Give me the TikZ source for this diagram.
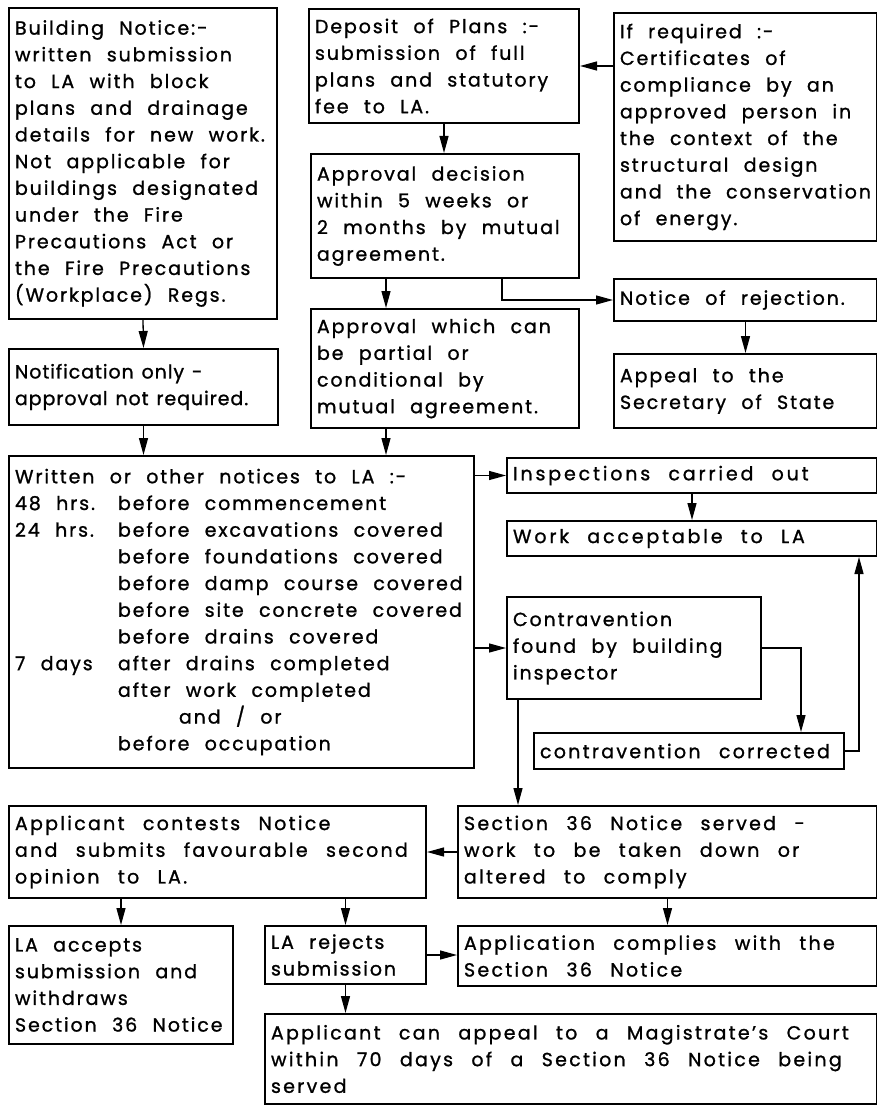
\documentclass[tikz,border=0pt]{standalone}
\usepackage{fontspec}
\setmainfont{Poppins}[LetterSpace=10, WordSpace=2.2, FakeBold=1.1]
\newfontfamily\narrowface{Poppins}[Ligatures=TeX, LetterSpace=5, WordSpace=1.3, FakeBold=1.1]
\newfontfamily\midface{Poppins}[Ligatures=TeX, LetterSpace=12, WordSpace=2.5, FakeBold=1.1]
\newfontfamily\wideface{Poppins}[Ligatures=TeX, LetterSpace=15, WordSpace=2.3, FakeBold=1.1]
\usetikzlibrary{arrows.meta, positioning, calc}

\newcommand{\hrscol}[1]{\makebox[103pt][l]{#1}}

\begin{document}
\begin{tikzpicture}[
    x=1pt, y=-1pt,
    box/.style={draw, line width=2pt, anchor=north west, align=flush left, inner xsep=6pt, inner ysep=2pt, font=\fontsize{19}{26.7}\selectfont},
    narrow/.style={font=\fontsize{19}{26.7}\narrowface},
    mid/.style={font=\fontsize{19}{26.7}\midface},
    wide/.style={font=\fontsize{19}{26.7}\wideface},
    arr/.style={-{Triangle[length=17pt, width=9pt]}, line width=1.3pt},
]
\useasboundingbox (0,0) rectangle (877,1107);

% Building notice route
\node[box, text width=256pt, minimum height=311pt] (bn) at (8,7) {Building Notice:-\\written submission\\to LA with block\\plans and drainage\\details for new work.\\Not applicable for\\buildings designated\\under the Fire\\Precautions Act or\\the Fire Precautions\\(Workplace) Regs.};
\node[box, narrow, text width=257pt, minimum height=76pt] (notif) at (8,348) {Notification only -\\approval not required.};

% Deposit of plans route
\node[box, text width=258pt, minimum height=114pt] (deposit) at (308,8) {Deposit of Plans :-\\submission of full\\plans and statutory\\fee to LA.};
\node[box, text width=256pt, minimum height=124pt] (decision) at (310,153) {Approval decision\\within 5 weeks or\\2 months by mutual\\agreement.};
\node[box, text width=256pt, minimum height=119pt] (approval) at (310,308) {Approval which can\\be partial or\\conditional by\\mutual agreement.};
\node[box, text width=251pt, minimum height=228pt] (ifreq) at (613,12) {If required :-\\Certificates of\\compliance by an\\approved person in\\the context of the\\structural design\\and the conservation\\of energy.};
\node[box, text width=251pt, minimum height=42pt] (reject) at (613,278) {Notice of rejection.};
\node[box, text width=251pt, minimum height=74pt] (appeal) at (613,353) {Appeal to the\\Secretary of State};

% Notices and inspections
\node[box, text width=453pt, minimum height=312pt] (notices) at (8,455) {Written or other notices to LA :-\\
\hrscol{48 hrs.}before commencement\\
\hrscol{24 hrs.}before excavations covered\\
\hrscol{}before foundations covered\\
\hrscol{}before damp course covered\\
\hrscol{}before site concrete covered\\
\hrscol{}before drains covered\\
\hrscol{7 days}after drains completed\\
\hrscol{}after work completed\\
\hspace*{164pt}and / or\\
\hrscol{}before occupation};
\node[box, wide, text width=358pt, minimum height=35pt] (inspect) at (506,457) {Inspections carried out};
\node[box, wide, text width=358pt, minimum height=35pt] (accept) at (506,520) {Work acceptable to LA};
\node[box, text width=242pt, minimum height=102pt] (contra) at (506,596) {Contravention\\found by building\\inspector};
\node[box, mid, text width=298pt, minimum height=36pt] (corrected) at (533,732) {contravention corrected};

% Section 36
\node[box, mid, text width=405pt, minimum height=92pt] (contests) at (8,805) {Applicant contests Notice\\and submits favourable second\\opinion to LA.};
\node[box, mid, text width=407pt, minimum height=92pt] (sec36) at (457,805) {Section 36 Notice served -\\work to be taken down or\\altered to comply};
\node[box, text width=212pt, minimum height=118pt] (laaccepts) at (8,925) {LA accepts\\submission and\\withdraws\\Section 36 Notice};
\node[box, text width=149pt, minimum height=58pt] (larejects) at (264,925) {LA rejects\\submission};
\node[box, mid, text width=407pt, minimum height=60pt] (complies) at (457,925) {Application complies with the\\Section 36 Notice};
\node[box, mid, text width=600pt, minimum height=90pt] (magistrate) at (264,1013) {Applicant can appeal to a Magistrate's Court\\within 70 days of a Section 36 Notice being\\served};

% Arrows
\coordinate (da) at ([xshift=-59pt]decision.south);
\coordinate (an) at ([xshift=-59pt]approval.south);
\coordinate (cc) at ([xshift=112pt]corrected.north);
\coordinate (ca) at ([xshift=167pt]accept.south);
\coordinate (cs) at ([xshift=12pt]contra.south west);

\draw[arr] (bn.south) -- (notif.north);
\draw[arr] (notif.south) -- (notif.south |- notices.north);
\draw[arr] (deposit.south) -- (deposit.south |- decision.north);
\draw[arr] (da) -- (da |- approval.north);
\draw[arr] (an) -- (an |- notices.north);
\draw[arr] (ifreq.west |- deposit.east) -- (deposit.east);
\draw[arr] ([xshift=57pt]decision.south) |- (reject.west);
\draw[arr] (reject.south) -- (appeal.north);
\draw[arr] (notices.east |- inspect.west) -- (inspect.west);
\draw[arr] (notices.east |- contra.west) -- (contra.west);
\draw[arr] (inspect.south) -- (accept.north);
\draw[arr] (contra.east) -| (cc);
\draw[arr] (corrected.east) -| (ca);
\draw[arr] (cs) -- (cs |- sec36.north);
\draw[arr] (sec36.west) -- (contests.east);
\draw[arr] (laaccepts.north |- contests.south) -- (laaccepts.north);
\draw[arr] (larejects.north |- contests.south) -- (larejects.north);
\draw[arr] (sec36.south) -- (complies.north);
\draw[arr] (larejects.east) -- (larejects.east -| complies.west);
\draw[arr] (larejects.south) -- (larejects.south |- magistrate.north);

\end{tikzpicture}
\end{document}
